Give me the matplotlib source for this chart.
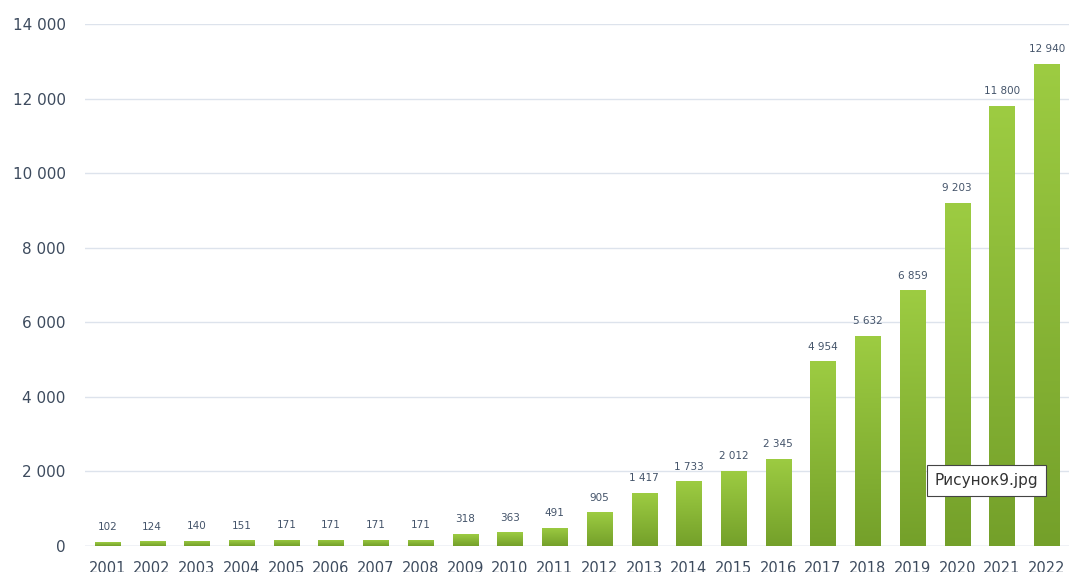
import matplotlib.pyplot as plt
import numpy as np
from matplotlib.colors import LinearSegmentedColormap

# Data
years = [str(y) for y in range(2001, 2023)]
values = [102, 124, 140, 151, 171, 171, 171, 171, 318, 363, 491, 905, 1417,
          1733, 2012, 2345, 4954, 5632, 6859, 9203, 11800, 12940]
yticks = [0, 2000, 4000, 6000, 8000, 10000, 12000, 14000]


def fmt(v):
    return f"{v:,}".replace(",", " ")


fig = plt.figure(figsize=(10.69, 5.72), dpi=100)
ax = fig.add_axes([0.0795, 0.0455, 0.9205, 0.9125])

x = np.arange(len(years))
width = 0.56
bars = ax.bar(x, values, width=width, color='none', edgecolor='none')

# vertical gradient in each bar
cmap = LinearSegmentedColormap.from_list('g', ['#74a02a', '#9dcc42'])
grad = np.linspace(0, 1, 256).reshape(-1, 1)
for b in bars:
    x0, y0 = b.get_x(), b.get_y()
    w, h = b.get_width(), b.get_height()
    im = ax.imshow(grad, cmap=cmap, aspect='auto', origin='lower',
                   extent=[x0, x0 + w, y0, y0 + h], zorder=2)
    im.set_clip_path(b)

for xi, v in zip(x, values):
    ax.annotate(fmt(v), (xi, v), xytext=(0, 7), textcoords='offset points',
                ha='center', va='bottom', fontsize=7.5, color='#44546a')

ax.set_xlim(-0.5, len(years) - 0.5)
ax.set_ylim(0, 14000)
ax.set_yticks(yticks)
ax.set_yticklabels([fmt(t) for t in yticks], fontsize=11, color='#3d4b5e')
ax.set_xticks(x)
ax.set_xticklabels(years, fontsize=10.5, color='#3d4b5e')
ax.tick_params(axis='both', length=0)
ax.tick_params(axis='y', pad=14)
ax.tick_params(axis='x', pad=11)
ax.grid(axis='y', color='#dde3ec', linewidth=1.0)
ax.set_axisbelow(True)
for s in ax.spines.values():
    s.set_visible(False)
ax.axhline(0, color='#d0d7e2', linewidth=1.0, zorder=1)

fig.text(0.923, 0.16, 'Рисунок9.jpg', fontsize=11, color='#333333',
         ha='center', va='center',
         bbox=dict(boxstyle='square,pad=0.5', facecolor='white', edgecolor='#444444', linewidth=0.8))

plt.savefig('out.png', dpi=100)
plt.close()
